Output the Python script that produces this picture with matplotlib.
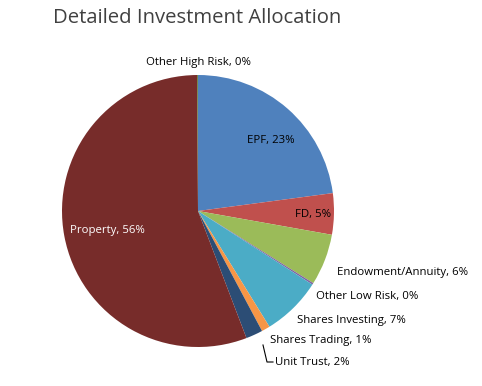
import matplotlib
matplotlib.use("Agg")
import matplotlib.pyplot as plt

categories = ["EPF", "FD", "Endowment/Annuity", "Other Low Risk", "Shares Investing",
              "Shares Trading", "Unit Trust", "Property", "Other High Risk"]
values = [22.9, 4.9, 6.1, 0.2, 7.1, 1.0, 2.0, 55.7, 0.1]
colors = ["#4F81BD", "#C0504D", "#9BBB59", "#8064A2", "#4BACC6",
          "#F79646", "#2C4D75", "#772C2A", "#5F7530"]

plt.rcParams['font.family'] = ['Open Sans', 'DejaVu Sans']

W, H = 482, 386
fig = plt.figure(figsize=(W / 100, H / 100), dpi=100)
ax = fig.add_axes([0, 0, 1, 1])

cx, cy, r = 198, H - 211, 136
ax.pie(values, colors=colors, startangle=90, counterclock=False,
       center=(cx, cy), radius=r, frame=True,
       wedgeprops=dict(linewidth=0))
ax.set_xlim(0, W)
ax.set_ylim(0, H)
ax.axis('off')

total = sum(values)
labels = [f"{c}, {round(v / total * 100)}%" for c, v in zip(categories, values)]

# label anchor points in pixel coordinates (x, y from top), horizontal alignment
label_pos = {
    "EPF": (271, 140, 'center'),
    "FD": (313, 215, 'center'),
    "Endowment/Annuity": (337, 273, 'left'),
    "Other Low Risk": (316, 296, 'left'),
    "Shares Investing": (297, 320, 'left'),
    "Shares Trading": (270, 341, 'left'),
    "Unit Trust": (275, 362, 'left'),
    "Property": (107, 231, 'center'),
    "Other High Risk": (198, 63, 'center'),
}
for c, lab in zip(categories, labels):
    x, y, ha = label_pos[c]
    col = "white" if c == "Property" else "black"
    ax.text(x, H - y, lab, ha=ha, va='center', fontsize=8.2, color=col)

# leader line for Unit Trust
ax.plot([263, 267, 273], [H - 345, H - 362, H - 362], color="black", lw=0.8)

fig.text(53 / W, 1 - 18 / H, "Detailed Investment Allocation", ha='left', va='center',
         fontsize=14.6, color="#404040")

fig.savefig("out.png", dpi=100)
